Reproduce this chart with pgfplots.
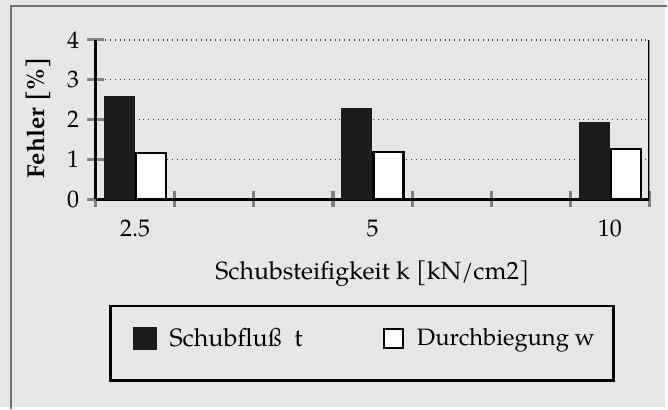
\documentclass[border=0pt]{standalone}
\usepackage{fontspec}
\setmainfont{TeX Gyre Pagella}
\newfontfamily\ylfont{TeX Gyre Pagella}
\usepackage{pgfplots}
\pgfplotsset{compat=1.18}
\definecolor{bg}{RGB}{230,230,230}
\definecolor{barblack}{RGB}{28,28,28}
\begin{document}
\begin{tikzpicture}[x=0.5pt,y=0.5pt]
\fill[bg] (0,0) rectangle (668,409);
\draw[black!55, line width=0.6pt] (11,-2) -- (11,403) -- (670,403);
\useasboundingbox (0,0) rectangle (668,409);
\begin{axis}[
  at={(48pt,104.5pt)}, anchor=south west,
  scale only axis, width=278pt, height=80pt,
  xmin=0, xmax=7, ymin=0, ymax=4,
  axis x line*=bottom, axis y line*=left,
  axis line style={line width=1.7pt},
  xtick={0.5,3.5,6.5}, xticklabels={2.5,5,10},
  major x tick style={draw=none},
  minor xtick={0,1,2,3,4,5,6,7},
  minor tick length=8pt,
  minor x tick style={line width=1.6pt},
  ytick={0,1,2,3,4},
  major tick length=8.5pt,
  y tick style={line width=1.6pt},
  tick align=center,
  ymajorgrids,
  grid style={dotted, black!75, line width=0.75pt},
  /pgf/number format/assume math mode=true,
  xticklabel style={font=\fontsize{12}{14}\selectfont, yshift=-2.5pt},
  yticklabel style={font=\fontsize{12}{14}\selectfont, xshift=-0.5pt},
  xlabel={Schubsteifigkeit k [kN/cm2]},
  xlabel style={font=\fontsize{12.5}{14}\selectfont, at={(axis description cs:0.5,-0.465)}, anchor=center},
  ylabel={Fehler [\%]},
  ylabel style={font=\ylfont\bfseries\fontsize{12.3}{14}\selectfont, at={(axis description cs:-0.103,0.51)}, anchor=center, rotate=0},
  legend columns=2,
  legend style={at={(axis description cs:0.0665,-0.875)}, anchor=west, draw=none, fill=none,
    inner sep=0pt, font=\fontsize{12.6}{14}\selectfont,
    nodes={inner sep=1pt},
    /tikz/every odd column/.append style={column sep=5.5pt},
    /tikz/every even column/.append style={column sep=39.5pt}},
]
\draw[line width=1.7pt] (rel axis cs:1,0) -- (rel axis cs:1,1);
\addplot[ybar, bar width=15pt, bar shift=-8pt, fill=barblack, draw=barblack,
  legend image code/.code={\fill[barblack] (0pt,-5.5pt) rectangle (11.5pt,5.5pt);}]
  coordinates {(0.5,2.57) (3.5,2.28) (6.5,1.92)};
\addlegendentry{Schubfluß\enspace t}
\addplot[ybar, bar width=15pt, bar shift=8pt, fill=white, draw=black, line width=1.1pt,
  legend image code/.code={\draw[black, line width=0.9pt, fill=white] (0pt,-4.75pt) rectangle (9.5pt,4.75pt);}]
  coordinates {(0.5,1.17) (3.5,1.18) (6.5,1.26)};
\addlegendentry{\fontsize{11.9}{14}\selectfont Durchbiegung w}
\end{axis}
\draw[black, line width=1.3pt] (111,27) rectangle (616,102);
\end{tikzpicture}
\end{document}
